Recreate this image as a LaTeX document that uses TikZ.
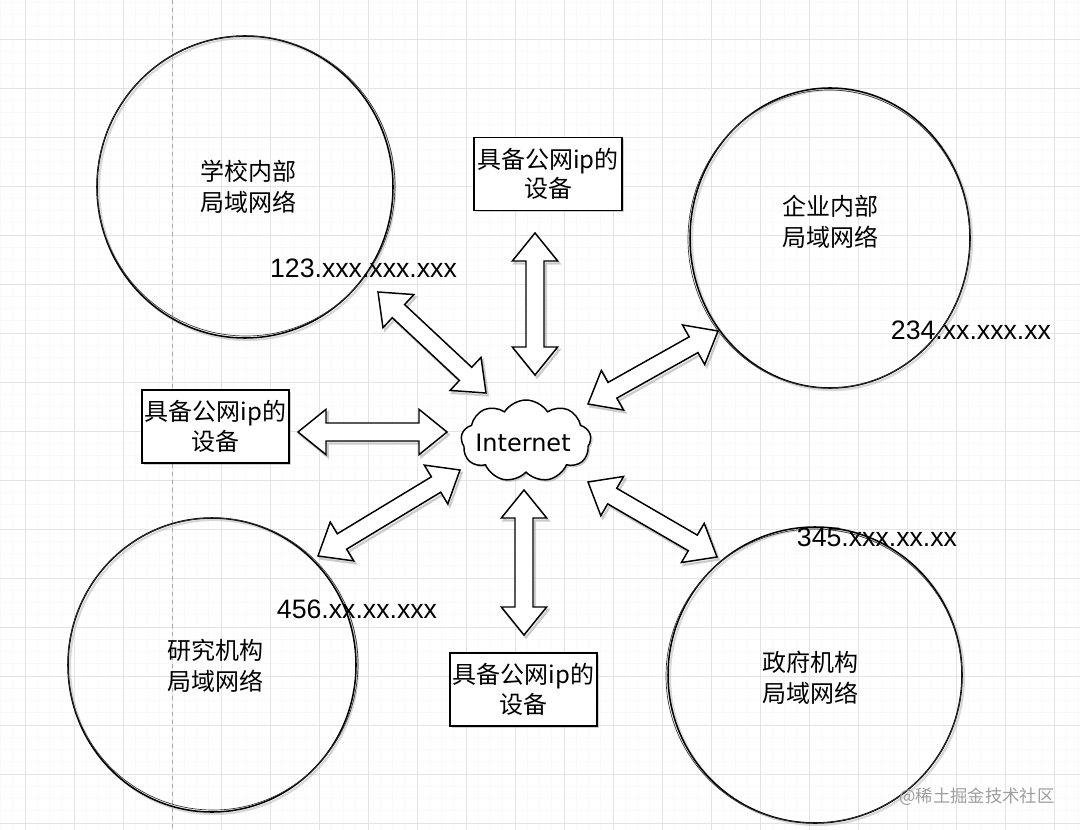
\documentclass[tikz,border=0pt]{standalone}
\usepackage{fontspec}
\newfontfamily\cjk{Noto Sans CJK SC}
\newfontfamily\ipfont{Liberation Sans}
\newfontfamily\netfont{DejaVu Sans}
\usetikzlibrary{calc,shapes.geometric,shapes.symbols,shadows}
\def\u{0.75pt}
\newcommand{\dblarr}[2]{%
 \coordinate (q1) at ($(#1)!21pt!(#2)$);
 \coordinate (q2) at ($(#2)!21pt!(#1)$);
 \draw[arrshadow] (#1) -- ($(q1)!17pt!90:(#2)$) -- ($(q1)!6.75pt!90:(#2)$) -- ($(q2)!6.75pt!-90:(#1)$) -- ($(q2)!17pt!-90:(#1)$) -- (#2) -- ($(q2)!17pt!90:(#1)$) -- ($(q2)!6.75pt!90:(#1)$) -- ($(q1)!6.75pt!-90:(#2)$) -- ($(q1)!17pt!-90:(#2)$) -- cycle;
 \draw[blockarr] (#1) -- ($(q1)!17pt!90:(#2)$) -- ($(q1)!6.75pt!90:(#2)$) -- ($(q2)!6.75pt!-90:(#1)$) -- ($(q2)!17pt!-90:(#1)$) -- (#2) -- ($(q2)!17pt!90:(#1)$) -- ($(q2)!6.75pt!90:(#1)$) -- ($(q1)!6.75pt!-90:(#2)$) -- ($(q1)!17pt!-90:(#2)$) -- cycle;}
\begin{document}
\begin{tikzpicture}[x=0.75pt,y=-0.75pt,
  gridminor/.style={draw=black!2.5,line width=0.4pt},
  gridmajor/.style={draw=black!11,line width=0.5pt},
  netcircle/.style={ellipse,draw=black,line width=1.15pt,inner sep=0pt},
  sketch2/.style={draw=black!80,line width=0.5pt},
  circshadow/.style={draw=black!30,line width=1.6pt,opacity=0.5},
  nettext/.style={font=\cjk\fontsize{18}{23}\selectfont,align=center,inner sep=0pt},
  devbox/.style={draw=black,fill=white,line width=1pt,inner sep=0pt,align=center,
    font=\cjk\fontsize{18}{22}\selectfont,minimum height=73*\u,
    drop shadow={shadow xshift=1.5pt,shadow yshift=-1.5pt,opacity=0.3,fill=black!60}},
  iplabel/.style={font=\ipfont\fontsize{20}{24}\selectfont,inner sep=0pt},
  blockarr/.style={draw=black,fill=white,line width=1.1pt,line join=miter},
  arrshadow/.style={draw=black!40,fill=black!15,line width=1.5pt,opacity=0.45,
    transform canvas={xshift=1.5pt,yshift=-2pt}},
  cloudnode/.style={cloud,cloud puffs=9,cloud puff arc=115,aspect=1.6,draw=black,fill=white,
    line width=1.1pt,inner sep=0pt,minimum width=130*\u,minimum height=82*\u,
    drop shadow={shadow xshift=1.5pt,shadow yshift=-1.5pt,opacity=0.3,fill=black!60}}
]
\useasboundingbox (0,0) rectangle (1080,830);
\fill[white] (0,0) rectangle (1080,830);
% grid
\foreach \x in {0.5,12.75,...,1080} \draw[gridminor] (\x,0) -- (\x,830);
\foreach \y in {2.25,14.5,...,830} \draw[gridminor] (0,\y) -- (1080,\y);
\foreach \x in {25,74,...,1080} \draw[gridmajor] (\x,0) -- (\x,830);
\foreach \y in {39,88,...,830} \draw[gridmajor] (0,\y) -- (1080,\y);
\draw[draw=black!35,dashed,line width=0.5pt] (172,0) -- (172,830);

% circles
\draw[circshadow] (247,189) ellipse [x radius=148*\u, y radius=151*\u];
\node[netcircle,minimum width=296*\u,minimum height=302*\u] (c1) at (245,187) {};
\draw[sketch2] (246,186) ellipse [x radius=149*\u, y radius=150*\u];
\node[nettext] (c1t) at (248,187) {学校内部\\局域网络};

\draw[circshadow] (832,240) ellipse [x radius=140*\u, y radius=150*\u];
\node[netcircle,minimum width=280*\u,minimum height=300*\u] (c2) at (830,238) {};
\draw[sketch2] (829,239) ellipse [x radius=141*\u, y radius=149*\u];
\node[nettext] (c2t) at (830,222) {企业内部\\局域网络};

\draw[circshadow] (214,667) ellipse [x radius=144*\u, y radius=147*\u];
\node[netcircle,minimum width=288*\u,minimum height=294*\u] (c3) at (212,665) {};
\draw[sketch2] (213,664) ellipse [x radius=145*\u, y radius=146*\u];
\node[nettext] (c3t) at (215,666) {研究机构\\局域网络};

\draw[circshadow] (817,677) ellipse [x radius=147*\u, y radius=148*\u];
\node[netcircle,minimum width=294*\u,minimum height=296*\u] (c4) at (815,675) {};
\draw[sketch2] (814,676) ellipse [x radius=148*\u, y radius=147*\u];
\node[nettext] (c4t) at (810,678) {政府机构\\局域网络};

% ip labels
\node[iplabel] (ip1) at (363.5,268) {123.xxx.xxx.xxx};
\node[iplabel] (ip2) at (971,330) {234.xx.xxx.xx};
\node[iplabel] (ip3) at (877,537) {345.xxx.xx.xx};
\node[iplabel] (ip4) at (357,609) {456.xx.xx.xxx};

% devices
\node[devbox,minimum width=148*\u] (d1) at (548,174) {具备公网ip的\\设备};
\node[devbox,minimum width=147*\u] (d2) at (215.5,426.5) {具备公网ip的\\设备};
\node[devbox,minimum width=147*\u] (d3) at (523.5,689.5) {具备公网ip的\\设备};

% cloud
\node[cloudnode] (net) at (526,441) {};
\node[font=\netfont\fontsize{18}{21}\selectfont,inner sep=0pt] (nett) at (523,443) {Internet};

% arrow ends
\coordinate (a1s) at (378,292); \coordinate (a1e) at (486,393);
\coordinate (a2s) at (535,233); \coordinate (a2e) at (535,375);
\coordinate (a3s) at (588,404); \coordinate (a3e) at (718,331);
\coordinate (a4s) at (298,432); \coordinate (a4e) at (447,432);
\coordinate (a5s) at (318,556); \coordinate (a5e) at (460,470);
\coordinate (a6s) at (524,490); \coordinate (a6e) at (524,635);
\coordinate (a7s) at (588,482); \coordinate (a7e) at (717,557);
\dblarr{a1s}{a1e}
\dblarr{a2s}{a2e}
\dblarr{a3s}{a3e}
\dblarr{a4s}{a4e}
\dblarr{a5s}{a5e}
\dblarr{a6s}{a6e}
\dblarr{a7s}{a7e}

% watermark
\node[font=\cjk\fontsize{13}{15}\selectfont,text=black!38,inner sep=0pt] (wm) at (977,797) {@稀土掘金技术社区};
\end{tikzpicture}
\end{document}
